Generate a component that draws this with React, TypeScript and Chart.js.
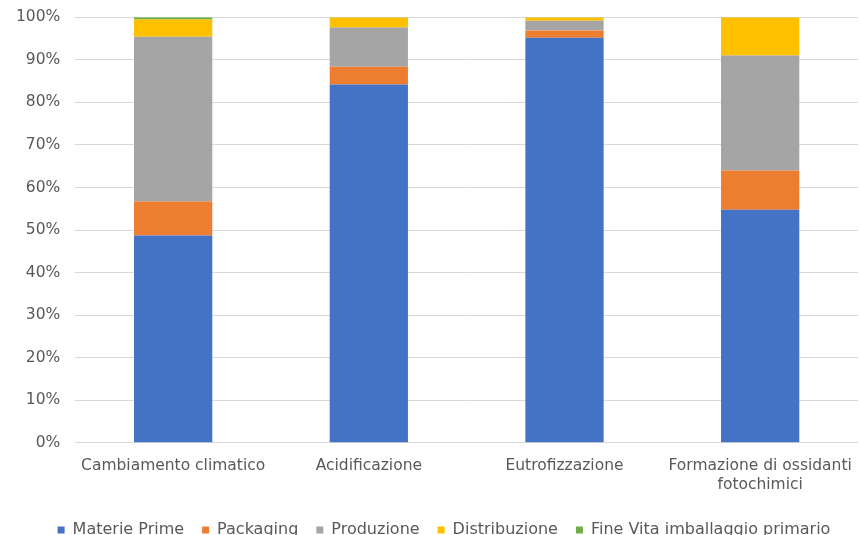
import React, { useEffect, useRef } from "react";
import { Chart, registerables } from "chart.js";

Chart.register(...registerables);

const categories: (string | string[])[] = [
  "Cambiamento climatico",
  "Acidificazione",
  "Eutrofizzazione",
  ["Formazione di ossidanti", "fotochimici"],
];
const materiePrime = [48.7, 84.2, 95.2, 54.8];
const packaging = [8.0, 4.2, 1.7, 9.2];
const produzione = [38.7, 9.2, 2.3, 27.0];
const distribuzione = [4.1, 2.35, 0.78, 8.95];
const fineVita = [0.5, 0.05, 0.02, 0.05];
const yTicks = [0, 10, 20, 30, 40, 50, 60, 70, 80, 90, 100];

const seriesNames = ["Materie Prime", "Packaging", "Produzione", "Distribuzione", "Fine Vita imballaggio primario"];
const seriesColors = ["#4472C4", "#ED7D31", "#A5A5A5", "#FFC000", "#70AD47"];

const shiftLegend = {
  id: "shiftLegend",
  afterLayout(chart: any) {
    if (chart.legend) {
      chart.legend.left += 11;
      chart.legend.right += 11;
    }
  },
};

export default function App() {
  const ref = useRef<HTMLCanvasElement | null>(null);
  useEffect(() => {
    document.body.style.margin = "0";
    const values = [materiePrime, packaging, produzione, distribuzione, fineVita];
    const font = "DejaVu Sans";
    const chart = new Chart(ref.current!, {
      type: "bar",
      data: {
        labels: categories,
        datasets: values.map((v, i) => ({
          label: seriesNames[i],
          data: v,
          backgroundColor: seriesColors[i],
          borderWidth: 0,
          categoryPercentage: 1,
          barPercentage: 0.4,
        })),
      },
      options: {
        animation: false,
        responsive: false,
        maintainAspectRatio: false,
        layout: { padding: { left: 8, right: 1, top: 0, bottom: -13 } },
        plugins: {
          legend: {
            position: "bottom",
            labels: {
              boxWidth: 7,
              boxHeight: 7,
              padding: 18,
              color: "#595959",
              font: { family: font, size: 16 },
            },
          },
          tooltip: { enabled: false },
        },
        scales: {
          x: {
            stacked: true,
            grid: { display: false },
            border: { display: false },
            ticks: { color: "#595959", font: { family: font, size: 15.5 }, padding: 6, maxRotation: 0, autoSkip: false },
            afterFit: (axis: any) => {
              axis.height += 4;
            },
          },
          y: {
            stacked: true,
            min: 0,
            max: 100,
            afterBuildTicks: (axis: any) => {
              axis.ticks = yTicks.map((v) => ({ value: v }));
            },
            grid: { color: "#D9D9D9", lineWidth: 1, drawTicks: true, tickLength: 7, tickColor: "rgba(0,0,0,0)" },
            border: { display: false },
            ticks: {
              color: "#595959",
              font: { family: font, size: 15.5 },
              padding: 8,
              callback: (v: any) => v + "%",
            },
          },
        },
      },
      plugins: [shiftLegend],
    });
    return () => chart.destroy();
  }, []);
  return (
    <div style={{ position: "absolute", left: 0, top: 0, width: 859, height: 535 }}>
      <canvas ref={ref} width={859} height={535} />
    </div>
  );
}
